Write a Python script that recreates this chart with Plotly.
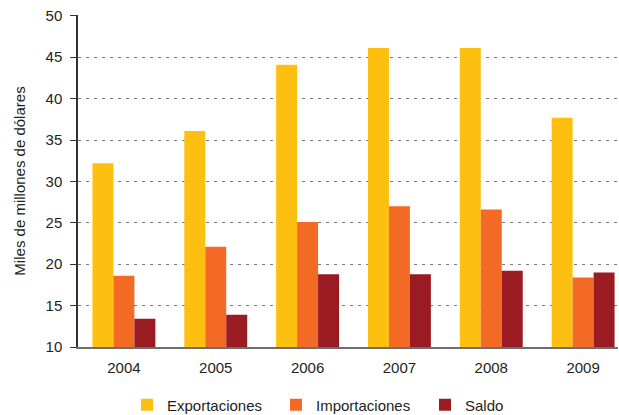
import plotly.graph_objects as go

# Annual trade figures, thousands of millions of dollars
years = ["2004", "2005", "2006", "2007", "2008", "2009"]
exportaciones = [32.2, 36.1, 44.1, 46.1, 46.1, 37.7]
importaciones = [18.6, 22.1, 25.1, 27.0, 26.6, 18.4]
saldo = [13.4, 13.9, 18.8, 18.8, 19.2, 19.0]

y_ticks = [10, 15, 20, 25, 30, 35, 40, 45, 50]

font_family = "Liberation Sans, Arial, Helvetica, sans-serif"
text_color = "#231f20"

fig = go.Figure()
series = [
    ("Exportaciones", exportaciones, "#FDC010"),
    ("Importaciones", importaciones, "#F26A24"),
    ("Saldo", saldo, "#9B1B22"),
]
for name, vals, color in series:
    fig.add_trace(go.Bar(
        x=years, y=vals, name=name, base=0,
        marker=dict(color=color, line=dict(width=0)),
    ))

fig.update_layout(
    width=619, height=415,
    margin=dict(l=78, r=1, t=15, b=68, autoexpand=False),
    paper_bgcolor="white", plot_bgcolor="white",
    barmode="group", bargap=0.315, bargroupgap=0,
    font=dict(family=font_family, size=15, color=text_color),
    showlegend=True,
    legend=dict(
        orientation="h", xref="container", yref="container",
        x=127 / 619, xanchor="left", y=1 - 405 / 415, yanchor="middle",
        font=dict(size=15, color=text_color),
        entrywidth=104, entrywidthmode="pixels",
        itemwidth=30, tracegroupgap=0,
    ),
    xaxis=dict(
        type="category", range=[-0.5, 5.38],
        showline=True, linecolor="#6e6e6e", linewidth=1.5,
        ticks="", showgrid=False, automargin=False,
        ticklabelstandoff=6,
        tickfont=dict(size=15, color=text_color),
    ),
    yaxis=dict(
        range=[10, 50.1], tickvals=y_ticks,
        showline=True, linecolor="#333333", linewidth=1.5,
        ticks="outside", ticklen=6, tickcolor="#333333", tickwidth=1,
        ticklabelstandoff=5,
        showgrid=True, gridcolor="#7a7a7a", griddash="3px,5px", gridwidth=1,
        zeroline=False, automargin=False,
        tickfont=dict(size=15, color=text_color),
        title=dict(text="Miles de millones de dólares",
                   font=dict(size=15, color=text_color), standoff=16),
    ),
)

fig.write_html("out.html")
